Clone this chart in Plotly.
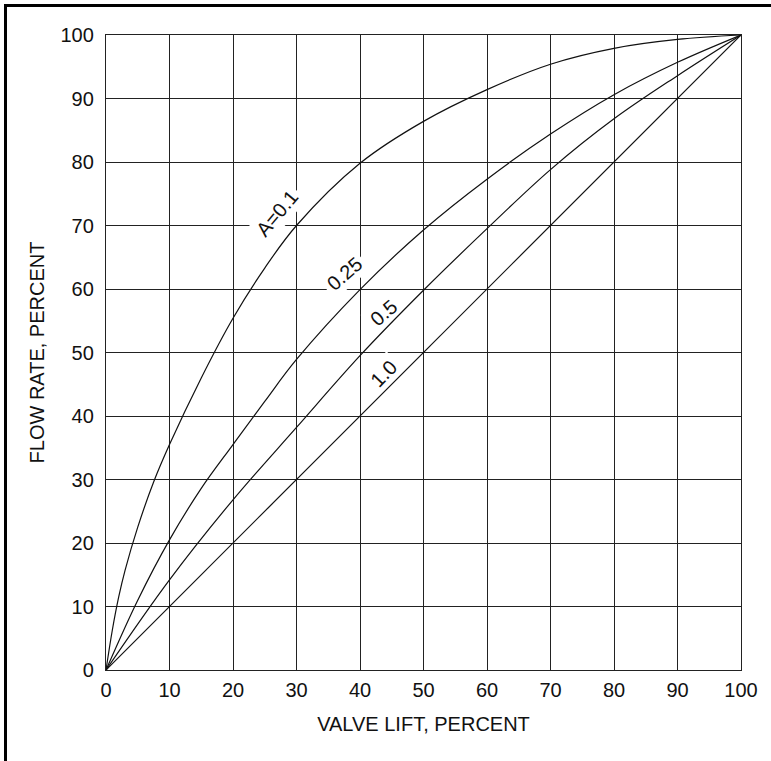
import math
import plotly.graph_objects as go

# Valve lift (%) and flow rate (%)
lift_a01 = [0, 1, 2, 3, 5, 7.5, 10, 15, 20, 25, 30, 40, 50, 60, 70, 80, 90, 100]
flow_a01 = [0, 6.3, 11.5, 15.7, 22.5, 29.6, 35.5, 46, 55.4, 63.3, 70, 79.8, 86.4, 91.4, 95.4, 97.9, 99.3, 100]

lift_a025 = [0, 5, 10, 15, 20, 25, 30, 40, 50, 60, 70, 80, 90, 100]
flow_a025 = [0, 11, 20.5, 28.6, 35.5, 42.3, 48.9, 59.9, 69.3, 77.3, 84.4, 90.6, 95.7, 100]

lift_a05 = [0, 10, 20, 30, 40, 50, 60, 70, 80, 90, 100]
flow_a05 = [0, 14.2, 26.8, 38.2, 49.5, 59.8, 69.5, 78.8, 86.8, 93.6, 100]

lift_a10 = [0, 100]
flow_a10 = [0, 100]

curve_labels = ["A=0.1", "0.25", "0.5", "1.0"]
label_x = [27.0, 37.5, 43.7, 43.7]
label_y = [71.9, 62.4, 56.2, 46.6]
label_angle = [-50, -41, -41, -46]
label_len = [9.4, 7.4, 5.8, 5.8]   # gap cut in the grid around each label (axis units)

tick_vals = list(range(0, 101, 10))
tick_text = [str(v) for v in tick_vals]

FONT = "Liberation Sans, Arial, sans-serif"
INK = "#111111"

fig = go.Figure()
for xs, ys in [(lift_a01, flow_a01), (lift_a025, flow_a025), (lift_a05, flow_a05), (lift_a10, flow_a10)]:
    fig.add_trace(go.Scatter(x=xs, y=ys, mode="lines",
                             line=dict(color=INK, width=1.2, shape="spline", smoothing=1.0),
                             showlegend=False, hoverinfo="skip"))


def rot_rect(cx, cy, w, h, ang):
    a = math.radians(-ang)
    ux, uy = math.cos(a), math.sin(a)
    vx, vy = -uy, ux
    pts = []
    for su, sv in [(-1, -1), (1, -1), (1, 1), (-1, 1)]:
        pts.append((cx + su * w / 2 * ux + sv * h / 2 * vx, cy + su * w / 2 * uy + sv * h / 2 * vy))
    return "M " + " L ".join(f"{x:.3f},{y:.3f}" for x, y in pts) + " Z"


for t, x, y, a, ln in zip(curve_labels, label_x, label_y, label_angle, label_len):
    # white patch that interrupts the grid (drawn between grid and curves)
    fig.add_shape(type="path", xref="x", yref="y", path=rot_rect(x, y, ln, 4.3, a),
                  fillcolor="white", line=dict(width=0), layer="between")
    fig.add_annotation(x=x, y=y, text=t, showarrow=False, textangle=a,
                       font=dict(family=FONT, size=20, color=INK))

L, R, T, B = 106, 30, 35, 91
W, H = 771, 761
pw, ph = W - L - R, H - T - B

def px(xpix):
    return (xpix - L) / pw

def py(ypix):
    return (H - B - ypix) / ph

# outer frame (top and left edges)
fig.add_shape(type="line", xref="paper", yref="paper", x0=px(4), x1=px(771), y0=py(5.5), y1=py(5.5),
              line=dict(color="black", width=3), layer="above")
fig.add_shape(type="line", xref="paper", yref="paper", x0=px(5.5), x1=px(5.5), y0=py(4), y1=py(761),
              line=dict(color="black", width=3), layer="above")

axis_common = dict(
    range=[0, 100], tickvals=tick_vals, ticktext=tick_text,
    showgrid=True, gridcolor="#222222", gridwidth=1.4,
    showline=True, linecolor="#222222", linewidth=1.4, mirror=True,
    zeroline=False, ticks="",
    tickfont=dict(family=FONT, size=20, color=INK),
    title_font=dict(family=FONT, size=20, color=INK),
)

fig.update_xaxes(**axis_common, title_text="VALVE LIFT, PERCENT", ticklabelstandoff=2, title_standoff=16)
fig.update_yaxes(**axis_common, title_text="FLOW RATE, PERCENT", ticklabelstandoff=7, title_standoff=10)

fig.update_layout(
    width=W, height=H,
    margin=dict(l=L, r=R, t=T, b=B),
    paper_bgcolor="white", plot_bgcolor="white",
    showlegend=False,
)

fig.write_html("out.html", config={"displayModeBar": False},
               post_script="document.body.style.margin='0px';")
